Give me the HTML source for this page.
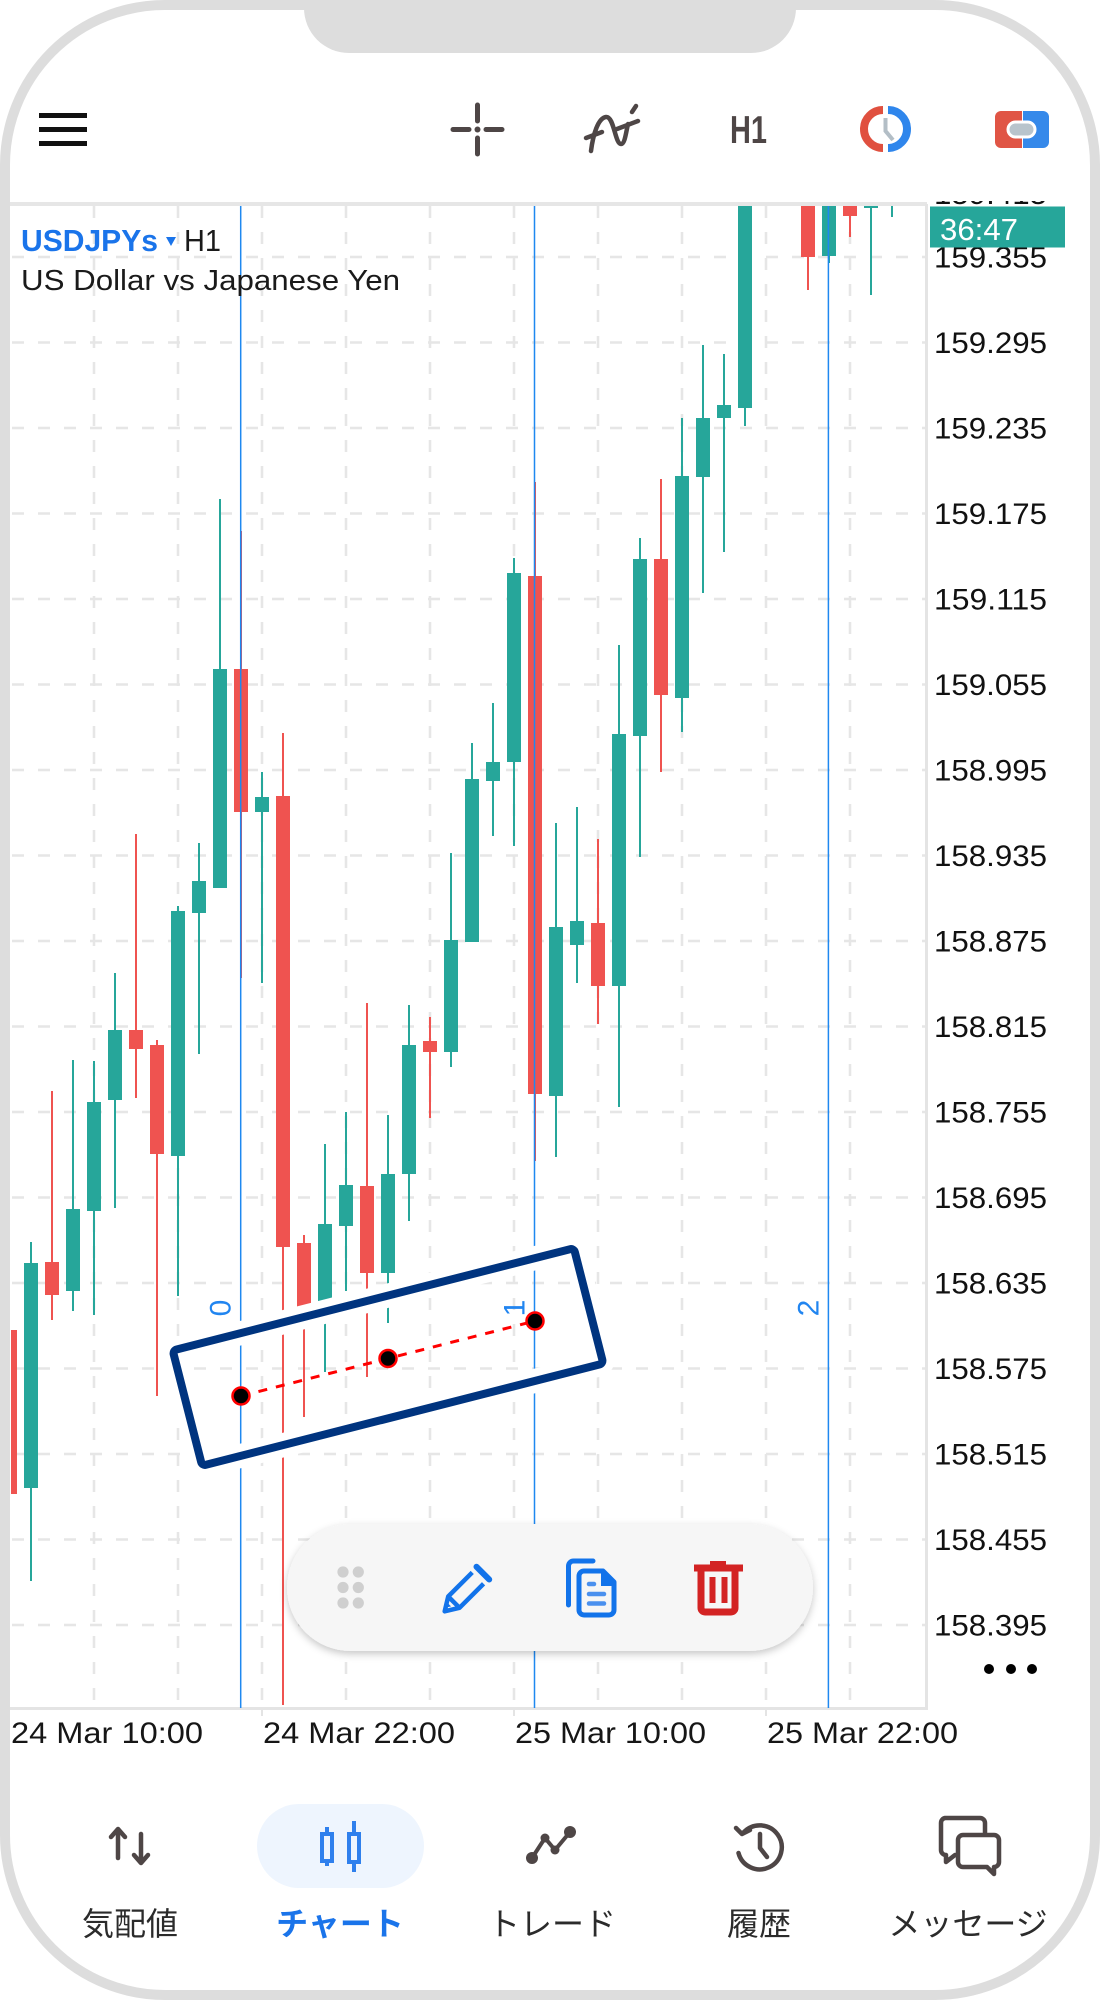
<!DOCTYPE html>
<html><head><meta charset="utf-8">
<style>
html,body{margin:0;padding:0;background:#fff;width:1100px;height:2000px;overflow:hidden}
svg{display:block}
text{font-family:"Liberation Sans","Noto Sans CJK JP",sans-serif}
</style></head><body>
<svg width="1100" height="2000" viewBox="0 0 1100 2000" xmlns="http://www.w3.org/2000/svg">
<defs>
<clipPath id="c"><rect x="11" y="206" width="914" height="1502"/></clipPath>
<clipPath id="ax"><rect x="928" y="201" width="160" height="1507"/></clipPath>
<filter id="sh" x="-10%" y="-30%" width="120%" height="170%"><feDropShadow dx="0" dy="3" stdDeviation="4" flood-color="#000" flood-opacity="0.22"/></filter>
</defs>

<!-- toolbar -->
<g fill="#111"><rect x="39" y="113" width="48" height="5"/><rect x="39" y="127" width="48" height="5"/><rect x="39" y="141" width="48" height="5"/></g>
<g stroke="#4e4646" stroke-width="5" stroke-linecap="round" fill="none">
<line x1="453" y1="129.5" x2="469" y2="129.5"/><line x1="486" y1="129.5" x2="502" y2="129.5"/>
<line x1="477.5" y1="105" x2="477.5" y2="121"/><line x1="477.5" y1="138" x2="477.5" y2="154"/>
</g>
<circle cx="477.5" cy="129.5" r="3" fill="#4e4646"/>
<g stroke="#4e4646" stroke-width="4.5" stroke-linecap="round" fill="none">
<path d="M591,151 C593,135 598,118 606,117 C614,116 615,144 621,144 C625,144 626,132 628,124"/>
<line x1="586" y1="138" x2="602" y2="132"/><line x1="617" y1="129" x2="638" y2="121"/><line x1="632" y1="112" x2="636" y2="106"/>
</g>
<text x="730" y="143" font-size="39" font-weight="bold" fill="#4e4646" textLength="37" lengthAdjust="spacingAndGlyphs">H1</text>
<g fill="none" stroke-width="8">
<path d="M883,110 A19,19 0 0 0 883,148" stroke="#e0503f"/>
<path d="M888,110 A19,19 0 0 1 888,148" stroke="#2f86ec"/>
</g>
<polyline points="885.5,118 885.5,131 893,140" fill="none" stroke="#b3bec6" stroke-width="4"/>
<rect x="995" y="111" width="27" height="37" rx="6" fill="#e05545"/><rect x="1010" y="111" width="12" height="37" fill="#e05545"/>
<rect x="1023" y="111" width="26" height="37" rx="6" fill="#3589ea"/><rect x="1023" y="111" width="12" height="37" fill="#3589ea"/>
<rect x="1008" y="122" width="27" height="15" rx="7.5" fill="#b8c4cc" stroke="#fff" stroke-width="3"/>

<!-- chart frame lines -->
<rect x="10" y="202" width="917" height="4" fill="#e6e6e6"/>
<rect x="925" y="204" width="3" height="1506" fill="#e4e4e4"/>
<rect x="10" y="1707" width="918" height="3" fill="#e4e4e4"/>
<g stroke="#e4e4e4" stroke-width="2"><line x1="262" y1="1710" x2="262" y2="1716"/><line x1="514" y1="1710" x2="514" y2="1716"/><line x1="766" y1="1710" x2="766" y2="1716"/></g>

<g clip-path="url(#c)">
<!-- grid -->
<g stroke="#e6e6e6" stroke-width="2.5" stroke-dasharray="12 14">
<line x1="12" y1="257" x2="932" y2="257"/><line x1="12" y1="342.5" x2="932" y2="342.5"/><line x1="12" y1="428" x2="932" y2="428"/><line x1="12" y1="513.5" x2="932" y2="513.5"/><line x1="12" y1="599" x2="932" y2="599"/><line x1="12" y1="684.5" x2="932" y2="684.5"/><line x1="12" y1="770" x2="932" y2="770"/><line x1="12" y1="855.5" x2="932" y2="855.5"/><line x1="12" y1="941" x2="932" y2="941"/><line x1="12" y1="1026.5" x2="932" y2="1026.5"/><line x1="12" y1="1112" x2="932" y2="1112"/><line x1="12" y1="1197.5" x2="932" y2="1197.5"/><line x1="12" y1="1283" x2="932" y2="1283"/><line x1="12" y1="1368.5" x2="932" y2="1368.5"/><line x1="12" y1="1454" x2="932" y2="1454"/><line x1="12" y1="1539.5" x2="932" y2="1539.5"/><line x1="12" y1="1625" x2="932" y2="1625"/>
<line x1="94" y1="206" x2="94" y2="1708"/><line x1="178" y1="206" x2="178" y2="1708"/><line x1="262" y1="206" x2="262" y2="1708"/><line x1="346" y1="206" x2="346" y2="1708"/><line x1="430" y1="206" x2="430" y2="1708"/><line x1="514" y1="206" x2="514" y2="1708"/><line x1="598" y1="206" x2="598" y2="1708"/><line x1="682" y1="206" x2="682" y2="1708"/><line x1="766" y1="206" x2="766" y2="1708"/><line x1="850" y1="206" x2="850" y2="1708"/>
</g>
<!-- red candles -->
<g fill="#ef5350">
<rect x="3" y="1330" width="14" height="164"/>
<rect x="51" y="1091" width="2" height="229"/><rect x="45" y="1262" width="14" height="33"/>
<rect x="135" y="834" width="2" height="264"/><rect x="129" y="1030" width="14" height="19"/>
<rect x="156" y="1040" width="2" height="356"/><rect x="150" y="1045" width="14" height="109"/>
<rect x="240" y="531" width="2" height="447"/><rect x="234" y="669" width="14" height="143"/>
<rect x="282" y="733" width="2" height="972"/><rect x="276" y="796" width="14" height="451"/>
<rect x="303" y="1235" width="2" height="182"/><rect x="297" y="1243" width="14" height="64"/>
<rect x="366" y="1003" width="2" height="374"/><rect x="360" y="1186" width="14" height="87"/>
<rect x="429" y="1017" width="2" height="101"/><rect x="423" y="1041" width="14" height="11"/>
<rect x="534" y="482" width="2" height="679"/><rect x="528" y="576" width="14" height="518"/>
<rect x="597" y="839" width="2" height="185"/><rect x="591" y="923" width="14" height="63"/>
<rect x="660" y="479" width="2" height="293"/><rect x="654" y="559" width="14" height="136"/>
<rect x="807" y="150" width="2" height="140"/><rect x="801" y="150" width="14" height="107"/>
<rect x="849" y="150" width="2" height="87"/><rect x="843" y="150" width="14" height="66"/>
</g>
<!-- teal candles -->
<g fill="#26a69a">
<rect x="30" y="1242" width="2" height="339"/><rect x="24" y="1263" width="14" height="225"/>
<rect x="72" y="1060" width="2" height="251"/><rect x="66" y="1209" width="14" height="82"/>
<rect x="93" y="1061" width="2" height="254"/><rect x="87" y="1102" width="14" height="109"/>
<rect x="114" y="973" width="2" height="235"/><rect x="108" y="1030" width="14" height="70"/>
<rect x="177" y="906" width="2" height="390"/><rect x="171" y="911" width="14" height="245"/>
<rect x="198" y="843" width="2" height="211"/><rect x="192" y="881" width="14" height="32"/>
<rect x="219" y="499" width="2" height="389"/><rect x="213" y="669" width="14" height="219"/>
<rect x="261" y="772" width="2" height="211"/><rect x="255" y="797" width="14" height="15"/>
<rect x="324" y="1144" width="2" height="228"/><rect x="318" y="1224" width="14" height="78"/>
<rect x="345" y="1112" width="2" height="179"/><rect x="339" y="1185" width="14" height="41"/>
<rect x="387" y="1115" width="2" height="208"/><rect x="381" y="1174" width="14" height="99"/>
<rect x="408" y="1005" width="2" height="216"/><rect x="402" y="1045" width="14" height="129"/>
<rect x="450" y="853" width="2" height="214"/><rect x="444" y="940" width="14" height="112"/>
<rect x="471" y="743" width="2" height="199"/><rect x="465" y="779" width="14" height="163"/>
<rect x="492" y="703" width="2" height="133"/><rect x="486" y="762" width="14" height="19"/>
<rect x="513" y="558" width="2" height="288"/><rect x="507" y="573" width="14" height="189"/>
<rect x="555" y="823" width="2" height="334"/><rect x="549" y="927" width="14" height="169"/>
<rect x="576" y="807" width="2" height="176"/><rect x="570" y="921" width="14" height="24"/>
<rect x="618" y="645" width="2" height="462"/><rect x="612" y="734" width="14" height="252"/>
<rect x="639" y="538" width="2" height="319"/><rect x="633" y="559" width="14" height="177"/>
<rect x="681" y="418" width="2" height="314"/><rect x="675" y="476" width="14" height="222"/>
<rect x="702" y="345" width="2" height="248"/><rect x="696" y="418" width="14" height="59"/>
<rect x="723" y="354" width="2" height="198"/><rect x="717" y="405" width="14" height="13"/>
<rect x="744" y="150" width="2" height="276"/><rect x="738" y="150" width="14" height="258"/>
<rect x="828" y="150" width="2" height="113"/><rect x="822" y="150" width="14" height="106"/>
<rect x="870" y="150" width="2" height="145"/><rect x="864" y="150" width="14" height="58"/>
<rect x="891" y="150" width="2" height="67"/>
</g>
<!-- cycle lines -->
<g stroke="#1e88f0" stroke-width="1.5">
<line x1="240.7" y1="206" x2="240.7" y2="1708"/><line x1="534.5" y1="206" x2="534.5" y2="1708"/><line x1="828.4" y1="206" x2="828.4" y2="1708"/>
</g>
<g fill="#2185f0" font-size="30" text-anchor="middle" dominant-baseline="central">
<text transform="translate(221,1308) rotate(-90)">0</text>
<text transform="translate(515,1308) rotate(-90)">1</text>
<text transform="translate(809,1308) rotate(-90)">2</text>
</g>
<!-- selection box -->
<g transform="translate(388,1357) rotate(-14.3)" fill="none">
<rect x="-207" y="-59.5" width="414" height="119" rx="4" stroke="#fff" stroke-width="24"/>
<rect x="-207" y="-59.5" width="414" height="119" rx="4" stroke="#00347f" stroke-width="8"/>
</g>
<line x1="241" y1="1396" x2="535" y2="1321" stroke="#ff0000" stroke-width="3" stroke-dasharray="9 9"/>
<g fill="#000" stroke="#ff0000" stroke-width="2.5">
<circle cx="241" cy="1396" r="8.5"/><circle cx="388" cy="1358.5" r="8.5"/><circle cx="535" cy="1321" r="8.5"/>
</g>
</g>

<!-- header text -->
<text x="21" y="251" font-size="31" font-weight="bold" fill="#1a74ea" textLength="137" lengthAdjust="spacingAndGlyphs">USDJPYs</text>
<polygon points="166,237 176,237 171,246" fill="#1a74ea"/>
<text x="184" y="251" font-size="31" fill="#1a1a1a" textLength="37" lengthAdjust="spacingAndGlyphs">H1</text>
<text x="21" y="290" font-size="29" fill="#1a1a1a" textLength="379" lengthAdjust="spacingAndGlyphs">US Dollar vs Japanese Yen</text>

<!-- price axis -->
<g font-size="30" fill="#111" clip-path="url(#ax)">
<text x="934" y="204" textLength="113" lengthAdjust="spacingAndGlyphs">159.415</text>
<text x="934" y="267.5" textLength="113" lengthAdjust="spacingAndGlyphs">159.355</text>
<text x="934" y="353" textLength="113" lengthAdjust="spacingAndGlyphs">159.295</text>
<text x="934" y="438.5" textLength="113" lengthAdjust="spacingAndGlyphs">159.235</text>
<text x="934" y="524" textLength="113" lengthAdjust="spacingAndGlyphs">159.175</text>
<text x="934" y="609.5" textLength="113" lengthAdjust="spacingAndGlyphs">159.115</text>
<text x="934" y="695" textLength="113" lengthAdjust="spacingAndGlyphs">159.055</text>
<text x="934" y="780.5" textLength="113" lengthAdjust="spacingAndGlyphs">158.995</text>
<text x="934" y="866" textLength="113" lengthAdjust="spacingAndGlyphs">158.935</text>
<text x="934" y="951.5" textLength="113" lengthAdjust="spacingAndGlyphs">158.875</text>
<text x="934" y="1037" textLength="113" lengthAdjust="spacingAndGlyphs">158.815</text>
<text x="934" y="1122.5" textLength="113" lengthAdjust="spacingAndGlyphs">158.755</text>
<text x="934" y="1208" textLength="113" lengthAdjust="spacingAndGlyphs">158.695</text>
<text x="934" y="1293.5" textLength="113" lengthAdjust="spacingAndGlyphs">158.635</text>
<text x="934" y="1379" textLength="113" lengthAdjust="spacingAndGlyphs">158.575</text>
<text x="934" y="1464.5" textLength="113" lengthAdjust="spacingAndGlyphs">158.515</text>
<text x="934" y="1550" textLength="113" lengthAdjust="spacingAndGlyphs">158.455</text>
<text x="934" y="1635.5" textLength="113" lengthAdjust="spacingAndGlyphs">158.395</text>
</g>
<rect x="930" y="206.5" width="135" height="41" fill="#26a69a"/>
<text x="940" y="240" font-size="31" fill="#fff" textLength="78" lengthAdjust="spacingAndGlyphs">36:47</text>
<g fill="#000"><circle cx="989" cy="1669" r="5"/><circle cx="1011" cy="1669" r="5"/><circle cx="1032" cy="1669" r="5"/></g>

<!-- time axis -->
<g font-size="30" fill="#161616">
<text x="11" y="1743" textLength="192" lengthAdjust="spacingAndGlyphs">24 Mar 10:00</text>
<text x="263" y="1743" textLength="192" lengthAdjust="spacingAndGlyphs">24 Mar 22:00</text>
<text x="515" y="1743" textLength="191" lengthAdjust="spacingAndGlyphs">25 Mar 10:00</text>
<text x="767" y="1743" textLength="191" lengthAdjust="spacingAndGlyphs">25 Mar 22:00</text>
</g>

<!-- popup toolbar -->
<rect x="287" y="1524" width="526" height="127" rx="63.5" fill="#f6f6f6" filter="url(#sh)"/>
<g fill="#cfcfcf">
<circle cx="343" cy="1572" r="5.6"/><circle cx="358.3" cy="1572" r="5.6"/>
<circle cx="343" cy="1587.5" r="5.6"/><circle cx="358.3" cy="1587.5" r="5.6"/>
<circle cx="343" cy="1603" r="5.6"/><circle cx="358.3" cy="1603" r="5.6"/>
</g>
<g transform="translate(468,1588) rotate(-45)" fill="none" stroke="#1273ea" stroke-width="4.5" stroke-linejoin="round">
<path d="M14,-8 L-20,-8 L-33,0 L-20,8 L14,8"/>
<line x1="-20" y1="-8" x2="-20" y2="8"/>
<line x1="21" y1="-9" x2="21" y2="9" stroke-width="6" stroke-linecap="round"/>
</g>
<path d="M-30,-2 L-25,-5 L-25,1 Z" transform="translate(468,1588) rotate(-45)" fill="#1273ea"/>
<path d="M568.5,1605 V1566 a5,5 0 0 1 5,-5 H593" fill="none" stroke="#1273ea" stroke-width="5" stroke-linecap="round"/>
<path d="M584,1571 H603 L614,1582 V1610 a5,5 0 0 1 -5,5 H584 a5,5 0 0 1 -5,-5 V1576 a5,5 0 0 1 5,-5 Z" fill="#f6f6f6" stroke="#1273ea" stroke-width="5" stroke-linejoin="round"/>
<path d="M601,1571 L616,1586 L601,1586 Z" fill="#1273ea"/>
<g stroke="#4a90ee" stroke-width="4.5" stroke-linecap="round"><line x1="589" y1="1584" x2="594" y2="1584"/><line x1="589" y1="1594" x2="604" y2="1594"/><line x1="589" y1="1603.5" x2="604" y2="1603.5"/></g>
<g fill="#d32323">
<rect x="710" y="1561" width="16" height="5"/>
<rect x="694" y="1564.5" width="49" height="7"/>
<rect x="709.5" y="1577" width="6" height="26"/><rect x="721.5" y="1577" width="6" height="26"/>
</g>
<path d="M701,1571 V1608 a4,4 0 0 0 4,4 H731 a4,4 0 0 0 4,-4 V1571" fill="none" stroke="#d32323" stroke-width="7"/>

<!-- bottom nav -->
<g stroke="#4e4646" stroke-width="4.5" stroke-linecap="round" stroke-linejoin="round" fill="none">
<line x1="118" y1="1830" x2="118" y2="1858"/><polyline points="111,1837 118,1829 125,1837"/>
<line x1="141" y1="1834" x2="141" y2="1862"/><polyline points="134,1855 141,1863 148,1855"/>
</g>
<rect x="257" y="1804" width="167" height="84" rx="42" fill="#eef5fe"/>
<g stroke="#2f80ed" stroke-width="4" fill="none">
<line x1="327" y1="1827" x2="327" y2="1866"/><rect x="322" y="1834" width="10" height="27" fill="#eef5fe"/>
<line x1="354" y1="1821" x2="354" y2="1872"/><rect x="349" y="1834" width="10" height="28" fill="#eef5fe"/>
</g>
<polyline points="532,1858 545,1838 555,1850 570,1832" fill="none" stroke="#4e4646" stroke-width="4"/>
<g fill="#4e4646"><circle cx="532" cy="1858" r="6"/><circle cx="545" cy="1838" r="4.5"/><circle cx="555" cy="1850" r="4.5"/><circle cx="570" cy="1832" r="6"/></g>
<g fill="none" stroke="#4e4646" stroke-width="4.5" stroke-linecap="round" stroke-linejoin="round">
<path d="M744,1832 A22,22 0 1 1 738.5,1853"/>
<polyline points="736,1828 742,1834 750,1830"/>
<polyline points="760,1834 760,1848 767,1857"/>
</g>
<g fill="#fff" stroke="#4e4646" stroke-width="4.5" stroke-linejoin="round">
<path d="M945,1818 H980 a5,5 0 0 1 5,5 V1850 a5,5 0 0 1 -5,5 H955 L946,1862 V1855 a5,5 0 0 1 -5,-5 V1823 a5,5 0 0 1 4,-5 Z"/>
<path d="M963,1835 H994 a5,5 0 0 1 5,5 V1862 a5,5 0 0 1 -5,5 V1874 L987,1867 H963 a5,5 0 0 1 -5,-5 V1840 a5,5 0 0 1 5,-5 Z"/>
</g>
<g font-size="32" text-anchor="middle" fill="#2b2b2b">
<text x="130" y="1935">気配値</text>
<text x="340" y="1935" fill="#1a74ea" font-weight="bold">チャート</text>
<text x="552" y="1935">トレード</text>
<text x="759" y="1935">履歴</text>
<text x="968" y="1935">メッセージ</text>
</g>

<!-- phone frame -->
<rect x="5" y="5" width="1090" height="1990" rx="160" fill="none" stroke="#dddddd" stroke-width="10"/>
<rect x="304" y="-60" width="492" height="113" rx="45" fill="#dddddd"/>
</svg>
</body></html>
